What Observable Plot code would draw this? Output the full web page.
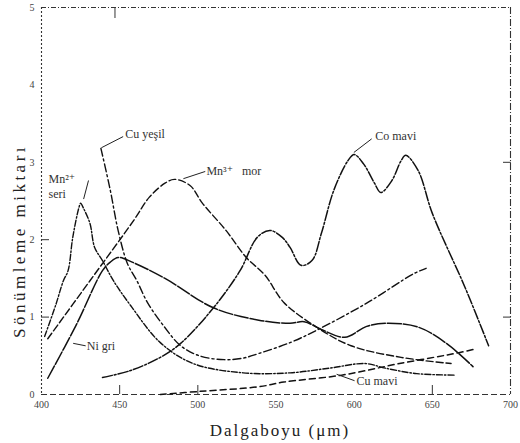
<!DOCTYPE html>
<html>
<head>
<meta charset="utf-8">
<script src="https://cdn.jsdelivr.net/npm/d3@7"></script>
<script src="https://cdn.jsdelivr.net/npm/@observablehq/plot@0.6"></script>
<style>
  html, body { margin: 0; padding: 0; background: #fff; }
  #chart { width: 520px; height: 443px; }
</style>
</head>
<body>
<div id="chart"></div>
<script>
// ---- data (wavelength nm, absorption) ----
const mn2Wl  = [402, 409, 414, 417, 420, 424, 425, 427, 431, 434, 439, 446, 457, 476, 497, 529, 559, 584, 607, 620, 640, 665];
const mn2Val = [0.75, 1.15, 1.47, 1.60, 2.03, 2.42, 2.47, 2.40, 2.21, 1.90, 1.73, 1.47, 1.15, 0.67, 0.40, 0.28, 0.28, 0.34, 0.40, 0.34, 0.27, 0.25];

const cuGWl  = [438, 444, 449, 455, 461, 468, 478, 489, 501, 517, 529, 539, 559, 576, 608, 638, 646];
const cuGVal = [3.18, 2.64, 2.12, 1.69, 1.47, 1.18, 0.89, 0.63, 0.50, 0.45, 0.47, 0.53, 0.67, 0.83, 1.18, 1.56, 1.63];

const mn3Wl  = [404, 431, 459, 469, 479, 485, 495, 503, 518, 531, 543, 555, 576, 598, 630, 662];
const mn3Val = [0.72, 1.47, 2.25, 2.55, 2.73, 2.78, 2.70, 2.47, 2.12, 1.77, 1.54, 1.19, 0.87, 0.63, 0.48, 0.40];

const niWl   = [404, 422, 439, 444, 449, 458, 479, 510, 539, 559, 568, 579, 594, 608, 620, 641, 659, 676];
const niVal  = [0.21, 0.89, 1.60, 1.71, 1.77, 1.71, 1.50, 1.12, 0.96, 0.92, 0.94, 0.84, 0.74, 0.88, 0.92, 0.87, 0.66, 0.36];

const coWl   = [439, 457, 476, 489, 510, 527, 538, 546, 554, 559, 566, 573, 579, 587, 596, 600, 606, 613, 617, 624, 630, 633, 641, 650, 671, 686];
const coVal  = [0.22, 0.31, 0.48, 0.66, 1.12, 1.60, 2.03, 2.12, 2.03, 1.90, 1.67, 1.73, 2.08, 2.64, 3.02, 3.10, 2.98, 2.73, 2.61, 2.76, 3.02, 3.09, 2.89, 2.34, 1.38, 0.63];

const cuBWl  = [476, 501, 539, 555, 592, 629, 667, 678];
const cuBVal = [0.00, 0.04, 0.10, 0.16, 0.25, 0.40, 0.54, 0.59];

const xTicks = [400, 450, 500, 550, 600, 650, 700];
const yTicks = [0, 1, 2, 3, 4, 5];

// annotation labels (text, anchor position) and arrows
const labelText = ["Mn²⁺", "seri", "Cu yeşil", "Mn³⁺   mor", "Co mavi", "Ni gri", "Cu mavi"];
const labelX    = [404.5, 404.5, 453.5, 505.5, 613.5, 429, 601.5];
const labelY    = [2.78, 2.59, 3.36, 2.89, 3.34, 0.63, 0.17];
const arrX1 = [430, 452, 504.5, 611, 428, 600];
const arrY1 = [2.76, 3.33, 2.88, 3.30, 0.63, 0.18];
const arrX2 = [427, 438.5, 491, 600, 420.5, 589];
const arrY2 = [2.53, 3.19, 2.79, 3.13, 0.66, 0.26];
const arrBend = [-40, 0, 0, 0, 0, 0];

const xTitle = "Dalgaboyu (μm)";
const yTitle = "Sönümleme miktarı";

// ---- build tables ----
const series = [
  {wl: mn2Wl, val: mn2Val, dash: "6,2,1.5,2", w: 1.4},
  {wl: cuGWl, val: cuGVal, dash: "8,3,2,3", w: 1.4},
  {wl: mn3Wl, val: mn3Val, dash: "7,3", w: 1.4},
  {wl: niWl,  val: niVal,  dash: "14,2", w: 1.5},
  {wl: coWl,  val: coVal,  dash: "10,2,2,2", w: 1.5},
  {wl: cuBWl, val: cuBVal, dash: "6,4", w: 1.5}
];
const lineMarks = series.map(s =>
  Plot.line(s.wl.map((w, i) => ({w, v: s.val[i]})), {
    x: "w", y: "v", curve: "catmull-rom",
    stroke: "#111", strokeWidth: s.w, strokeDasharray: s.dash
  })
);
const labels = labelText.map((t, i) => ({t, x: labelX[i], y: labelY[i]}));
const arrows = arrX1.map((x1, i) => ({x1, y1: arrY1[i], x2: arrX2[i], y2: arrY2[i], b: arrBend[i]}));

const font = "'Liberation Serif', 'DejaVu Serif', serif";

const chart = Plot.plot({
  width: 520,
  height: 443,
  marginLeft: 41,
  marginRight: 10,
  marginTop: 7,
  marginBottom: 49,
  style: {fontFamily: font, background: "#fff", color: "#222"},
  x: {domain: [400, 700]},
  y: {domain: [0, 5]},
  marks: [
    // frame edges in scanned dashed style
    Plot.ruleY([5], {stroke: "#333", strokeDasharray: "5,2,1,2", strokeWidth: 1.1}),
    Plot.ruleY([0], {stroke: "#333", strokeDasharray: "6,3", strokeWidth: 1.1}),
    Plot.ruleX([400], {stroke: "#333", strokeDasharray: "2,2", strokeWidth: 1.1}),
    Plot.ruleX([700], {stroke: "#333", strokeDasharray: "7,2,1,2", strokeWidth: 1.1}),
    // tick labels
    Plot.axisX({ticks: xTicks, tickSize: 0, tickPadding: 6, fontSize: 10, fill: "#444", label: null, tickFormat: "d"}),
    Plot.axisY({ticks: yTicks, tickSize: 0, tickPadding: 7, fontSize: 10, fill: "#444", label: null, tickFormat: "d"}),
    // inward tick marks
    Plot.axisY({anchor: "left", ticks: [1, 2], tickSize: -8, text: null, label: null, stroke: "#333"}),
    Plot.axisY({anchor: "right", ticks: [1, 3], tickSize: -8, text: null, label: null, stroke: "#333"}),
    Plot.axisX({anchor: "bottom", ticks: [450, 500, 650], tickSize: -9, text: null, label: null, stroke: "#333"}),
    Plot.axisX({anchor: "top", ticks: [447], tickSize: -10, text: null, label: null, stroke: "#333"}),
    // axis titles
    Plot.text([xTitle], {frameAnchor: "bottom", textAnchor: "middle", lineAnchor: "middle", dy: 36, dx: 4, fontSize: 17, fill: "#222"}),
    Plot.text([yTitle], {frameAnchor: "left", textAnchor: "middle", lineAnchor: "middle", rotate: -90, dx: -22, dy: 40, fontSize: 17, fill: "#222"}),
    // curves
    ...lineMarks,
    // annotations
    Plot.arrow(arrows, {x1: "x1", y1: "y1", x2: "x2", y2: "y2", bend: "b", stroke: "#222", strokeWidth: 1, headLength: 5}),
    Plot.text(labels, {x: "x", y: "y", text: "t", textAnchor: "start", fontSize: 12, fill: "#333"})
  ]
});
// widen spacing of the scanned-looking axis titles
d3.select(chart).selectAll("text").each(function () {
  const t = this.textContent;
  if (t === xTitle) this.setAttribute("letter-spacing", "2");
  if (t === yTitle) this.setAttribute("letter-spacing", "3.5");
});
document.getElementById("chart").appendChild(chart);
</script>
</body>
</html>
